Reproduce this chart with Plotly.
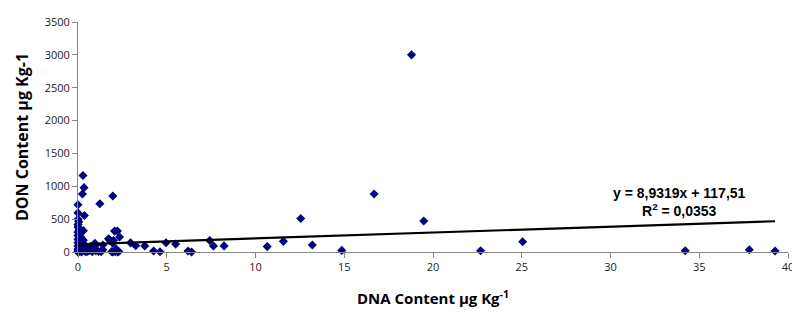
import plotly.graph_objects as go

# DNA content (x) and DON content (y)
dna = [18.79, 16.68, 19.48, 12.55, 11.57, 10.66, 13.2, 14.86, 22.68, 25.05, 34.21, 37.82, 39.27,
       7.42, 7.63, 8.23, 6.2, 6.4, 4.96, 5.5, 4.26, 4.62, 3.76, 3.25, 2.96,
       2.34, 2.06, 2.22, 1.72, 2.0, 1.96, 2.15, 1.9, 2.1, 2.3, 1.96, 2.24,
       1.96, 1.23, 0.28, 0.34, 0.25, 0.0, 0.0, 0.36, 0.0, 0.04, 0.0, 0.3, 0.3,
       0.95, 1.4, 0.98, 0.7, 1.4, 1.0, 1.15, 1.3,
       0.0, 0.05, 0.0, 0.1, 0.0, 0.15, 0.05, 0.0, 0.1, 0.2, 0.0, 0.08, 0.15, 0.0,
       0.25, 0.05, 0.12, 0.0, 0.3, 0.2, 0.0, 0.1, 0.4, 0.5, 0.6, 0.8, 0.0, 0.2,
       0.35, 0.45, 0.55, 0.65, 1.78]
don = [3000, 882, 471, 509, 162, 82, 107, 24, 19, 156, 19, 34, 15,
       176, 93, 93, 15, 0, 141, 120, 15, 4, 93, 95, 139,
       228, 318, 318, 200, 176, 135, 44, 5, 5, 8, 0, 0,
       853, 735, 1164, 979, 882, 720, 595, 555, 500, 462, 420, 325, 180,
       132, 107, 103, 82, 34, 20, 10, 5,
       380, 330, 300, 280, 250, 230, 210, 190, 170, 150, 140, 120, 100, 90,
       80, 60, 50, 40, 35, 25, 15, 10, 10, 5, 20, 5, 0, 0,
       60, 90, 45, 30, 181]

# Excel linear trendline shown on the chart
slope = 8.9319
intercept = 117.51
eq_text = "<b>y = 8,9319x + 117,51</b><br><b>R<sup>2</sup> = 0,0353</b>"

x_ticks = [0, 5, 10, 15, 20, 25, 30, 35, 40]
y_ticks = [0, 500, 1000, 1500, 2000, 2500, 3000, 3500]

tx = [min(dna), max(dna)]
ty = [slope * v + intercept for v in tx]

fig = go.Figure()
fig.add_trace(go.Scatter(x=dna, y=don, mode="markers",
                         marker=dict(symbol="diamond", size=7, color="#000080"),
                         cliponaxis=False, showlegend=False))
fig.add_trace(go.Scatter(x=tx, y=ty, mode="lines",
                         line=dict(color="black", width=2.2),
                         cliponaxis=False, showlegend=False))

fig.add_annotation(xref="paper", yref="paper",
                   x=(683 - 78.3) / (791.7 - 78.3), y=(252.3 - 201) / 238,
                   xanchor="center", yanchor="middle", text=eq_text, showarrow=False,
                   font=dict(family="Liberation Sans", size=14, color="black"), align="center")

axis_common = dict(showline=True, linecolor="#868686", linewidth=1, ticks="outside",
                   tickcolor="#868686", ticklen=5, showgrid=False, zeroline=False,
                   ticklabeloverflow="allow",
                   tickfont=dict(family="Open Sans", size=11, color="#222222"))

fig.update_xaxes(range=[0, 40], tickvals=x_ticks, **axis_common,
                 title=dict(text="<b>DNA Content µg Kg<sup>-1</sup></b>", standoff=20,
                            font=dict(family="Open Sans", size=15, color="black")))
fig.update_yaxes(range=[0, 3500], tickvals=y_ticks, **axis_common,
                 title=dict(text="<b>DON Content µg Kg-1</b>", standoff=12,
                            font=dict(family="Open Sans", size=16, color="black")))

# page body adds an 8px offset; figure is sized so the plot area lands where the reference has it
fig.update_layout(width=792, height=306, plot_bgcolor="white", paper_bgcolor="white",
                  margin=dict(l=70, r=8, t=6, b=62))

fig.write_html("out.html")
